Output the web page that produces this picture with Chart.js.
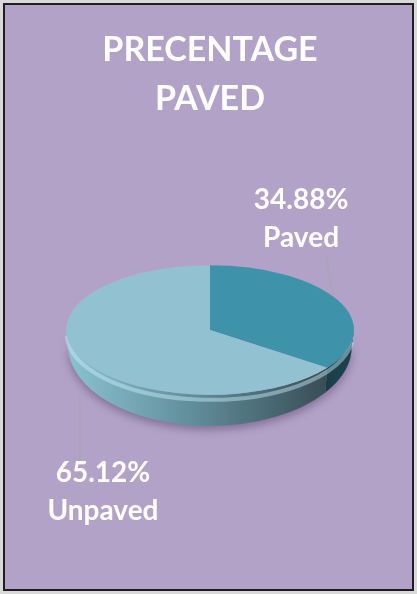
<!DOCTYPE html>
<html>
<head>
<meta charset="utf-8">
<script src="https://cdn.jsdelivr.net/npm/chart.js@4.4.1/dist/chart.umd.min.js"></script>
<style>
  body { margin: 0; background: #d9d9d9; }
  #frame { position: absolute; left: 3px; top: 3px; width: 407px; height: 584px; background: #b3a2c7; border: 2px solid #1e1e1e; }
  #pie { position: absolute; left: 0; top: 0; }
</style>
</head>
<body>
<div id="frame"></div>
<canvas id="pie" width="417" height="594"></canvas>
<script>
var categories = ["Paved", "Unpaved"]
var shares = [34.88, 65.12]
var topColors = ["#3e93ab", "#92c1d2"]
var titleLines = ["PRECENTAGE", "PAVED"]

var squash = 0.45      // ellipse height / width of the top face
var sideOffset = 16    // bottom ellipse shift
var sideSquash = 0.555 // bottom ellipse height / width
// label text centre and leader line ends relative to the slice's mid point on the rim
var labelPlace = [
    { dx: -37, dy: -81, x1: -5, y1: -5, x2: -12, y2: -45 },
    { dx: 21, dy: 132, x1: -2, y1: 30, x2: -2, y2: 100 }
]

function sideFill(ctx, i, x0, x1) {
    if (i == 0) return "#1d404c";
    var g = ctx.createLinearGradient(x0, 0, x1, 0);
    g.addColorStop(0, "#8cc2d1");
    g.addColorStop(0.45, "#62919e");
    g.addColorStop(1, "#384a52");
    return g;
}

const pie3d = {
    id: "pie3d",
    beforeDatasetsDraw(chart) {
        const ctx = chart.ctx;
        const arcs = chart.getDatasetMeta(0).data;
        const cx = arcs[0].x, cy = arcs[0].y, r = arcs[0].outerRadius;
        ctx.save();
        ctx.shadowColor = "rgba(40,20,60,0.35)";
        ctx.shadowBlur = 9;
        ctx.shadowOffsetY = 4;
        arcs.forEach((arc, i) => {
            const a1 = Math.max(arc.startAngle, 0);
            const a2 = Math.min(arc.endAngle, Math.PI);
            if (a2 <= a1) return;
            ctx.beginPath();
            ctx.ellipse(cx, cy, r, r * squash, 0, a1, a2);
            ctx.ellipse(cx, cy + sideOffset, r * 0.985, r * sideSquash, 0, a2, a1, true);
            ctx.closePath();
            ctx.fillStyle = sideFill(ctx, i, cx - r, cx + r * 0.85);
            ctx.fill();
        });
        ctx.restore();
        // rounded bevel just under the top edge
        ctx.save();
        ctx.beginPath();
        ctx.ellipse(cx, cy + 4, r - 1, r * squash + 1, 0, 0.12, Math.PI - 0.03);
        ctx.strokeStyle = "rgba(205,240,250,0.45)";
        ctx.lineWidth = 4;
        ctx.stroke();
        ctx.restore();
        ctx.save();
        ctx.translate(cx, cy);
        ctx.scale(1, squash);
        ctx.translate(-cx, -cy);
    },
    afterDatasetsDraw(chart) {
        const ctx = chart.ctx;
        ctx.restore();
        const arcs = chart.getDatasetMeta(0).data;
        const cx = arcs[0].x, cy = arcs[0].y, r = arcs[0].outerRadius;
        ctx.save();
        ctx.font = "bold 28px Lato";
        ctx.fillStyle = "#ffffff";
        ctx.textAlign = "center";
        ctx.textBaseline = "middle";
        arcs.forEach((arc, i) => {
            const mid = (arc.startAngle + arc.endAngle) / 2;
            const ex = cx + r * Math.cos(mid), ey = cy + r * squash * Math.sin(mid);
            const p = labelPlace[i];
            ctx.beginPath();
            ctx.moveTo(ex + p.x1, ey + p.y1);
            ctx.lineTo(ex + p.x2, ey + p.y2);
            ctx.strokeStyle = "#a6a6a6";
            ctx.lineWidth = 1;
            ctx.stroke();
            ctx.fillText(shares[i].toFixed(2) + "%", ex + p.dx, ey + p.dy - 19);
            ctx.fillText(categories[i], ex + p.dx, ey + p.dy + 19);
        });
        ctx.restore();
    }
}

new Chart(document.getElementById("pie"), {
    type: "pie",
    data: {
        labels: categories,
        datasets: [{ data: shares, backgroundColor: topColors, borderWidth: 0 }]
    },
    options: {
        responsive: false,
        animation: false,
        layout: { padding: { left: 66, right: 63, top: 0, bottom: 120 } },
        plugins: {
            legend: { display: false },
            tooltip: { enabled: false },
            title: {
                display: true,
                text: titleLines,
                color: "#ffffff",
                font: { family: "Lato", size: 34, weight: "bold", lineHeight: 1.45 },
                padding: { top: 25, bottom: 62.4 }
            }
        }
    },
    plugins: [pie3d]
})
</script>
</body>
</html>
